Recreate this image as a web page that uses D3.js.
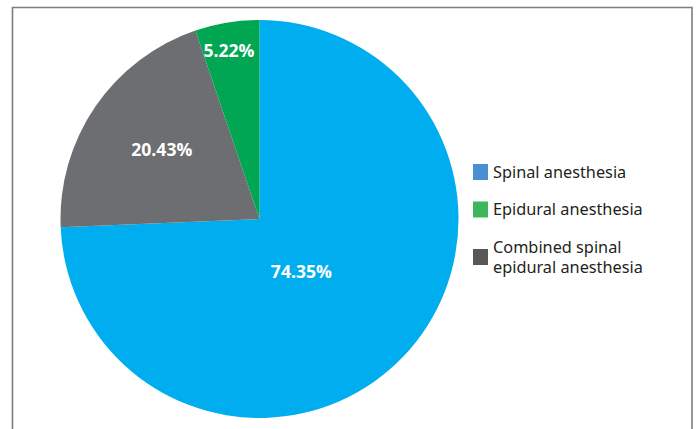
<!DOCTYPE html>
<html>
<head>
<meta charset="utf-8">
<script src="https://cdn.jsdelivr.net/npm/d3@7"></script>
<style>
  html, body { margin: 0; padding: 0; background: #fff; }
  svg { display: block; }
</style>
</head>
<body>
<svg id="chart" width="696" height="429"></svg>
<script>
// Anesthesia types (legend order)
const categories = ["Spinal anesthesia", "Epidural anesthesia", "Combined spinal epidural anesthesia"];
const legendLines = [["Spinal anesthesia"], ["Epidural anesthesia"], ["Combined spinal", "epidural anesthesia"]];
const shares = [74.35, 5.22, 20.43];
const valueLabels = ["74.35%", "5.22%", "20.43%"];
// Slice drawing order, clockwise from 12 o'clock
const sliceOrder = [0, 2, 1];

const sliceColors = ["#00aeef", "#00a651", "#6d6e71"];
const legendColors = ["#4a8fd3", "#3db75b", "#575757"];

const width = 696, height = 429;
const cx = 259.5, cy = 219, radius = 199;

const svg = d3.select("#chart");

// Panel frame (open at the bottom edge of the page)
svg.append("path")
  .attr("d", `M12.5,${height + 2} V7.5 H692 V${height + 2}`)
  .attr("fill", "none")
  .attr("stroke", "#7d7d7d")
  .attr("stroke-width", 1.6);

const items = sliceOrder.map(i => ({ i, value: shares[i] }));

const pie = d3.pie()
  .value(d => d.value)
  .sort(null);

const arcs = pie(items);

const arc = d3.arc().innerRadius(0).outerRadius(radius);

const g = svg.append("g").attr("transform", `translate(${cx},${cy})`);

g.selectAll("path.slice")
  .data(arcs)
  .join("path")
  .attr("class", "slice")
  .attr("d", arc)
  .attr("fill", d => sliceColors[d.data.i]);

// Label placement: distance from centre and angular nudge (degrees) per category
const labelRadius = [67, 171, 120];
const labelNudge = [7.5, -0.9, 1.0];

g.selectAll("text.value")
  .data(arcs)
  .join("text")
  .attr("class", "value")
  .attr("transform", d => {
    const mid = (d.startAngle + d.endAngle) / 2 + labelNudge[d.data.i] * Math.PI / 180;
    const r = labelRadius[d.data.i];
    return `translate(${r * Math.sin(mid)},${-r * Math.cos(mid)})`;
  })
  .attr("text-anchor", "middle")
  .attr("dy", "0.36em")
  .attr("fill", "#ffffff")
  .attr("font-family", "'Open Sans', sans-serif")
  .attr("font-weight", "bold")
  .attr("font-size", 17.6)
  .text(d => valueLabels[d.data.i]);

// Legend: rows stacked downward, each extra text line adds to the row height
const rowGap = 37.5, lineGap = 20;
const rowCenters = [];
let acc = 172;
legendLines.forEach((lines, k) => {
  const half = (lines.length - 1) * lineGap / 2;
  if (k > 0) acc += half;
  rowCenters.push(acc);
  acc += rowGap + half;
});

const legend = svg.append("g").attr("transform", "translate(473,0)");

const entry = legend.selectAll("g.entry")
  .data(categories)
  .join("g")
  .attr("class", "entry")
  .attr("transform", (d, k) => `translate(0,${rowCenters[k]})`);

entry.append("rect")
  .attr("x", 0)
  .attr("y", -8)
  .attr("width", 15)
  .attr("height", 16)
  .attr("fill", (d, k) => legendColors[k]);

entry.each(function (d, k) {
  const lines = legendLines[k];
  const t = d3.select(this).append("text")
    .attr("x", 20)
    .attr("fill", "#231f20")
    .attr("font-family", "'Noto Sans', sans-serif")
    .attr("font-size", 16.3);
  const first = -(lines.length - 1) * lineGap / 2;
  lines.forEach((line, j) => {
    t.append("tspan")
      .attr("x", 20)
      .attr("y", first + j * lineGap)
      .attr("dy", "0.36em")
      .text(line);
  });
});
</script>
</body>
</html>
